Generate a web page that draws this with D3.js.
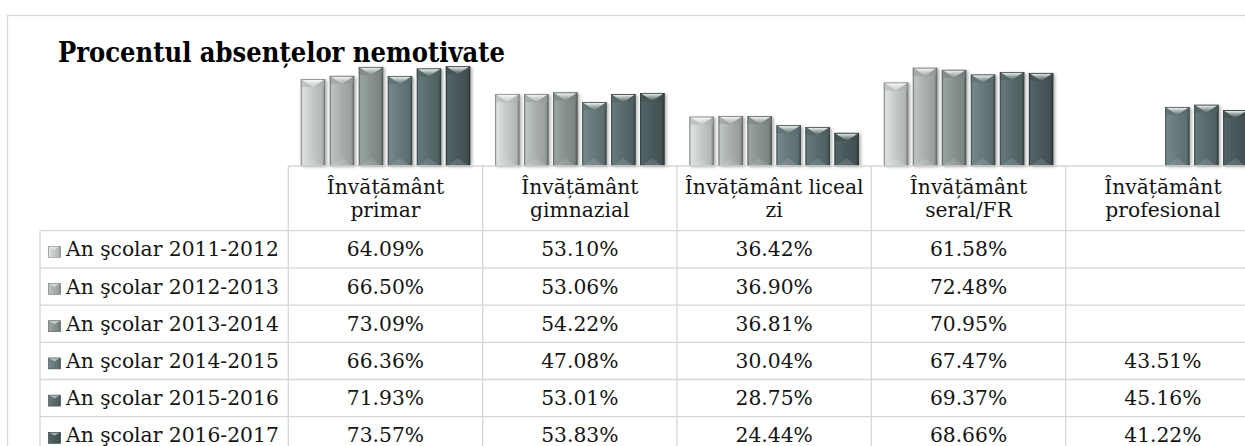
<!DOCTYPE html>
<html>
<head>
<meta charset="utf-8">
<script src="https://cdn.jsdelivr.net/npm/d3@7"></script>
<style>
  html, body { margin: 0; padding: 0; background: #fff; overflow: hidden; }
  svg { display: block; }
</style>
</head>
<body>
<svg id="chart" width="1245" height="446"></svg>
<script>
// ---- data ----
const title = "Procentul absențelor nemotivate";
const categories = ["Învățământ primar", "Învățământ gimnazial", "Învățământ liceal zi", "Învățământ seral/FR", "Învățământ profesional"];
const categoryLines = [["Învățământ", "primar"], ["Învățământ", "gimnazial"], ["Învățământ liceal", "zi"], ["Învățământ", "seral/FR"], ["Învățământ", "profesional"]];
const seriesNames = ["An şcolar 2011-2012", "An şcolar 2012-2013", "An şcolar 2013-2014", "An şcolar 2014-2015", "An şcolar 2015-2016", "An şcolar 2016-2017"];
const v2011 = [64.09, 53.10, 36.42, 61.58, null];
const v2012 = [66.50, 53.06, 36.90, 72.48, null];
const v2013 = [73.09, 54.22, 36.81, 70.95, null];
const v2014 = [66.36, 47.08, 30.04, 67.47, 43.51];
const v2015 = [71.93, 53.01, 28.75, 69.37, 45.16];
const v2016 = [73.57, 53.83, 24.44, 68.66, 41.22];
const seriesValues = [v2011, v2012, v2013, v2014, v2015, v2016];
const seriesColors = ["#c3c7c7", "#a7adad", "#86918f", "#667879", "#586a6b", "#48585a"];

// ---- layout ----
const svg = d3.select("#chart");
const tableLeft = 40, colStart = 288.3, colW = 194.35;
const headerTop = 166, rowTop = 230.7, rowH = 37.2;
const gridColor = "#d6d6d6";

const x0 = d3.scaleBand().domain(categories).range([colStart, colStart + colW * categories.length]).paddingInner(0).paddingOuter(0);
const x1 = d3.scaleBand().domain(seriesNames).range([0, x0.bandwidth()]).paddingInner(0.16).paddingOuter(0.43);
const y = d3.scaleLinear().domain([0, 80]).range([headerTop, 57.6]);

const defs = svg.append("defs");
const shadow = defs.append("filter").attr("id", "shadow").attr("x", "-30%").attr("y", "-10%").attr("width", "160%").attr("height", "130%");
shadow.append("feDropShadow").attr("dx", 2).attr("dy", 1).attr("stdDeviation", 1.8).attr("flood-color", "#000").attr("flood-opacity", 0.3);

seriesColors.forEach((c, i) => {
  const base = d3.color(c);
  const g = defs.append("linearGradient").attr("id", "grad" + i).attr("x1", "0").attr("x2", "1").attr("y1", "0").attr("y2", "0");
  g.append("stop").attr("offset", "0").attr("stop-color", base.darker(0.5));
  g.append("stop").attr("offset", "0.08").attr("stop-color", base.brighter(0.35));
  g.append("stop").attr("offset", "0.5").attr("stop-color", base);
  g.append("stop").attr("offset", "0.88").attr("stop-color", base.darker(0.25));
  g.append("stop").attr("offset", "1").attr("stop-color", base.darker(1.6));
  const t = defs.append("linearGradient").attr("id", "top" + i).attr("x1", "0").attr("x2", "0").attr("y1", "0").attr("y2", "1");
  t.append("stop").attr("offset", "0").attr("stop-color", "#ffffff").attr("stop-opacity", 0.95);
  t.append("stop").attr("offset", "1").attr("stop-color", base.brighter(0.2)).attr("stop-opacity", 0.6);
});

// outer frame
svg.append("rect").attr("x", 7.5).attr("y", 15.5).attr("width", 1300).attr("height", 500)
  .attr("fill", "none").attr("stroke", "#d9d9d9").attr("stroke-width", 1.3);

// title
const titleText = svg.append("text").attr("x", 58).attr("y", 62)
  .attr("font-family", "'DejaVu Serif', serif").attr("font-weight", "bold").attr("font-size", 27)
  .attr("fill", "#000").text(title);
titleText.attr("textLength", 447).attr("lengthAdjust", "spacingAndGlyphs");

// bars
const groups = svg.append("g").selectAll("g").data(categories).join("g")
  .attr("transform", d => `translate(${x0(d)},0)`);

const barData = (cat, ci) => seriesNames.map((s, si) => ({ s, si, v: seriesValues[si][ci] })).filter(d => d.v != null);

groups.each(function (cat, ci) {
  const g = d3.select(this);
  const bars = g.selectAll("g.bar").data(barData(cat, ci)).join("g").attr("class", "bar");
  bars.append("rect")
    .attr("x", d => x1(d.s)).attr("y", d => y(d.v))
    .attr("width", x1.bandwidth()).attr("height", d => y(0) - y(d.v))
    .attr("fill", d => `url(#grad${d.si})`).attr("filter", "url(#shadow)");
  const bw = x1.bandwidth(), bev = 8;
  bars.append("path")
    .attr("d", d => { const x = x1(d.s), t = y(d.v); return `M${x},${t}L${x + bw},${t}L${x + bw},${t + bev}L${x},${t + bev}Z`; })
    .attr("fill", d => d3.color(seriesColors[d.si]).darker(0.35)).attr("opacity", 0.55);
  bars.append("path")
    .attr("d", d => { const x = x1(d.s), t = y(d.v); return `M${x + 1},${t + 0.5}L${x + bw - 1},${t + 0.5}L${x + bw / 2},${t + bev}Z`; })
    .attr("fill", d => `url(#top${d.si})`);
  bars.append("path")
    .attr("d", d => { const x = x1(d.s), b = y(0); return `M${x + 2},${b}L${x + bw - 2},${b}L${x + bw / 2},${b - bev}Z`; })
    .attr("fill", "#ffffff").attr("opacity", 0.12);
  bars.append("rect")
    .attr("x", d => x1(d.s) + 0.4).attr("y", d => y(d.v) + 0.4)
    .attr("width", bw - 0.8).attr("height", d => y(0) - y(d.v) - 0.4)
    .attr("fill", "none").attr("stroke", d => d3.color(seriesColors[d.si]).darker(1.3)).attr("stroke-width", 0.8).attr("stroke-opacity", 0.8);
});

// ---- table ----
const tableRight = colStart + colW * categories.length;
const nRows = seriesNames.length;
const grid = svg.append("g").attr("stroke", gridColor).attr("stroke-width", 1.3);
grid.append("line").attr("x1", colStart).attr("x2", tableRight).attr("y1", headerTop).attr("y2", headerTop);
d3.range(nRows + 1).forEach(r => {
  const yy = rowTop + r * rowH;
  grid.append("line").attr("x1", tableLeft).attr("x2", tableRight).attr("y1", yy).attr("y2", yy);
});
grid.append("line").attr("x1", tableLeft).attr("x2", tableLeft).attr("y1", rowTop).attr("y2", rowTop + nRows * rowH);
d3.range(categories.length + 1).forEach(c => {
  const xx = colStart + c * colW;
  grid.append("line").attr("x1", xx).attr("x2", xx).attr("y1", headerTop).attr("y2", rowTop + nRows * rowH);
});

const fontFam = "'DejaVu Serif', serif";
const textColor = "#141414";
const probe = svg.append("text").attr("font-family", fontFam).attr("font-size", 16).text(seriesNames[0]);
const probeW = probe.node().getComputedTextLength();
probe.remove();
const fs = 16 * 213 / probeW;

categories.forEach((cat, ci) => {
  const cx = x0(cat) + x0.bandwidth() / 2;
  const t = svg.append("text").attr("x", cx).attr("text-anchor", "middle")
    .attr("font-family", fontFam).attr("font-size", fs).attr("fill", textColor);
  categoryLines[ci].forEach((ln, li) => {
    t.append("tspan").attr("x", cx).attr("y", 194 + li * 22.5).text(ln);
  });
});

seriesNames.forEach((s, si) => {
  const cy = rowTop + si * rowH + rowH / 2;
  const m = svg.append("g");
  m.append("rect").attr("x", 48.5).attr("y", cy - 3).attr("width", 12).attr("height", 11)
    .attr("fill", `url(#grad${si})`);
  m.append("path").attr("d", `M49,${cy - 3}L60,${cy - 3}L54.5,${cy + 0.5}Z`).attr("fill", "#fff").attr("opacity", 0.5);
  m.append("rect").attr("x", 48.5).attr("y", cy - 3).attr("width", 12).attr("height", 11)
    .attr("fill", "none").attr("stroke", d3.color(seriesColors[si]).darker(1)).attr("stroke-width", 0.6);
  svg.append("text").attr("x", 66).attr("y", cy + 7)
    .attr("font-family", fontFam).attr("font-size", fs).attr("fill", textColor).text(s);
  categories.forEach((cat, ci) => {
    const v = seriesValues[si][ci];
    if (v == null) return;
    svg.append("text").attr("x", x0(cat) + x0.bandwidth() / 2).attr("y", cy + 7)
      .attr("text-anchor", "middle").attr("font-family", fontFam).attr("font-size", fs).attr("fill", textColor)
      .text(v.toFixed(2) + "%");
  });
});
</script>
</body>
</html>
